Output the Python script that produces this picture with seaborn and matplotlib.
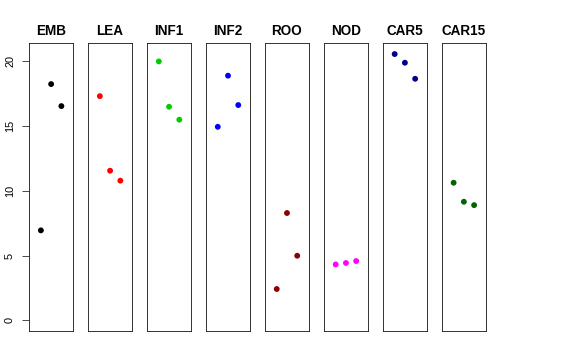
import matplotlib
matplotlib.use("Agg")
import matplotlib.pyplot as plt
import seaborn as sns
import pandas as pd

sns.set_style("white", {"axes.edgecolor": "#222222", "text.color": "black",
                        "ytick.color": "black", "ytick.left": True})
plt.rcParams['font.family'] = ['Liberation Sans', 'DejaVu Sans']

tissues = ["EMB", "LEA", "INF1", "INF2", "ROO", "NOD", "CAR5", "CAR15"]
colors = ["#000000", "#FF0000", "#00CD00", "#0000FF", "#8B0000", "#FF00FF", "#00008B", "#006400"]
reps = [1, 2, 3]
emb = [6.95, 18.25, 16.55]
lea = [17.32, 11.56, 10.79]
inf1 = [20.0, 16.5, 15.5]
inf2 = [14.95, 18.9, 16.63]
roo = [2.42, 8.29, 4.99]
nod = [4.32, 4.43, 4.58]
car5 = [20.57, 19.9, 18.66]
car15 = [10.63, 9.16, 8.9]
values = [emb, lea, inf1, inf2, roo, nod, car5, car15]
yticks = [0, 5, 10, 15, 20]

rows = []
for t, vals in zip(tissues, values):
    for r, v in zip(reps, vals):
        rows.append({"tissue": t, "rep": r, "value": v})
df = pd.DataFrame(rows)

fig, axes = plt.subplots(1, 8, figsize=(8, 5), dpi=72)
fig.subplots_adjust(left=29/576, right=486/576, top=1-43/360, bottom=1-331/360, wspace=0.332)

ymax = 20.6
ext = 0.04 * ymax
for ax, t, c in zip(axes, tissues, colors):
    sub = df[df.tissue == t]
    sns.scatterplot(data=sub, x="rep", y="value", color=c, s=34, edgecolor="none",
                    linewidth=0, ax=ax, legend=False)
    ax.set_xlim(0 - 0.16, 4 + 0.16)
    ax.set_ylim(0 - ext, ymax + ext)
    ax.set_xticks([])
    ax.set_xlabel("")
    ax.set_ylabel("")
    ax.set_title(t, fontsize=13.5, fontweight="bold", pad=8, color="black")
    for s in ax.spines.values():
        s.set_visible(True)
        s.set_color("#222222")
        s.set_linewidth(0.9)
    if ax is not axes[0]:
        ax.set_yticks([])

ax0 = axes[0]
ax0.set_yticks(yticks)
ax0.set_yticklabels([str(v) for v in yticks])
ax0.tick_params(axis="y", which="major", left=True, length=7, width=0.8, pad=7,
                color="#222222", labelcolor="black", labelsize=11, labelrotation=90,
                direction="out")
for lab in ax0.get_yticklabels():
    lab.set_verticalalignment("center")
    lab.set_horizontalalignment("right")

fig.savefig("out.png", dpi=72, facecolor="white")
